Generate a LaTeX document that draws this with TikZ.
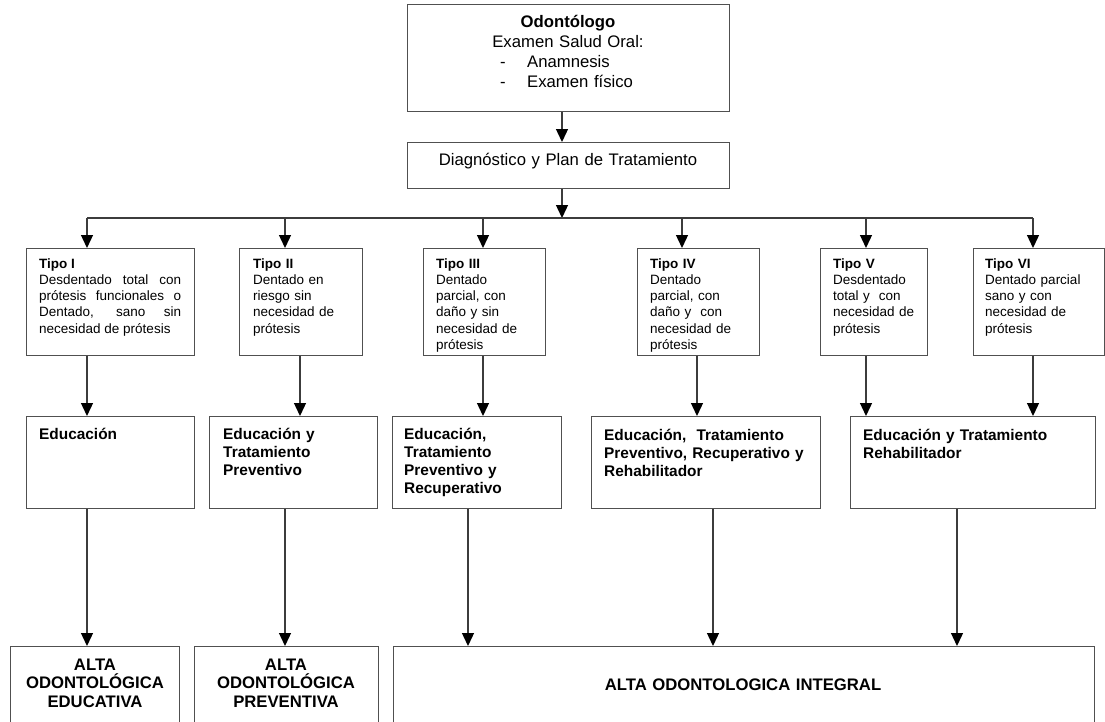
\documentclass[tikz,border=0pt]{standalone}
\usepackage{fontspec}
\setmainfont{Liberation Sans}
\usetikzlibrary{arrows.meta}
\definecolor{boxc}{HTML}{505050}
\definecolor{linec}{HTML}{3C3C3C}
\begin{document}
\begin{tikzpicture}[x=1pt,y=-1pt,
  box/.style={draw=boxc,line width=1.4pt,inner sep=0pt,anchor=north west},
  conn/.style={draw=linec,line width=1.3pt},
  arr/.style={conn,-{Triangle[length=13pt,width=12pt,color=black]}},
  toptext/.style={inner sep=0pt,font=\fontsize{16.7}{20}\selectfont},
  tipotxt/.style={inner sep=0pt,anchor=base west,align=left,font=\fontsize{13.5}{16.3}\selectfont},
  edutxt/.style={inner sep=0pt,anchor=base west,align=left,font=\fontsize{15.4}{18}\selectfont\bfseries},
  altatxt/.style={inner sep=0pt,anchor=base,align=center,font=\fontsize{16.7}{18.5}\selectfont\bfseries}]
\useasboundingbox (0,0) rectangle (1105,721);

% ---------- top ----------
\node[box,minimum width=322pt,minimum height=107pt] (top) at (407,4) {};
\node[toptext,anchor=base,text width=300pt,align=center] (toptxt) at (568,27) {\textbf{Odontólogo}\\Examen Salud Oral:};
\node[toptext,anchor=base west,text width=200pt,align=left] (toplist) at (500,67) {\makebox[27pt][l]{-}Anamnesis\\\makebox[27pt][l]{-}Examen físico};

\node[box,minimum width=322pt,minimum height=46pt] (diag) at (407,142) {};
\node[toptext,anchor=base,text width=310pt,align=center] (diagtxt) at (568,165) {Diagnóstico y Plan de Tratamiento};

% ---------- tipo boxes ----------
\node[box,minimum width=168pt,minimum height=107pt] (t1) at (26,248) {};
\node[box,minimum width=123pt,minimum height=107pt] (t2) at (239,248) {};
\node[box,minimum width=122pt,minimum height=107pt] (t3) at (423,248) {};
\node[box,minimum width=122pt,minimum height=107pt] (t4) at (637,248) {};
\node[box,minimum width=107pt,minimum height=107pt] (t5) at (820,248) {};
\node[box,minimum width=131pt,minimum height=107pt] (t6) at (973,248) {};

\node[tipotxt,text width=142pt,align=justify] (t1txt) at (39,268) {\textbf{Tipo I}\\Desdentado total con\linebreak prótesis funcionales o\linebreak Dentado, sano sin\linebreak necesidad de prótesis};
\node[tipotxt,text width=105pt] (t2txt) at (253,268) {\textbf{Tipo II}\\Dentado en\\riesgo sin\\necesidad de\\prótesis};
\node[tipotxt,text width=105pt] (t3txt) at (436,268) {\textbf{Tipo III}\\Dentado\\parcial, con\\daño y sin\\necesidad de\\prótesis};
\node[tipotxt,text width=105pt] (t4txt) at (650,268) {\textbf{Tipo IV}\\Dentado\\parcial, con\\daño y \ con\\necesidad de\\prótesis};
\node[tipotxt,text width=92pt] (t5txt) at (833,268) {\textbf{Tipo V}\\Desdentado\\total y \ con\\necesidad de\\prótesis};
\node[tipotxt,text width=115pt] (t6txt) at (985,268) {\textbf{Tipo VI}\\Dentado parcial\\sano y con\\necesidad de\\prótesis};

% ---------- education boxes ----------
\node[box,minimum width=168pt,minimum height=92pt] (e1) at (26,416) {};
\node[box,minimum width=168pt,minimum height=92pt] (e2) at (209,416) {};
\node[box,minimum width=169pt,minimum height=92pt] (e3) at (392,416) {};
\node[box,minimum width=229pt,minimum height=92pt] (e4) at (591,416) {};
\node[box,minimum width=245pt,minimum height=92pt] (e5) at (850,416) {};

\node[edutxt,text width=140pt] (e1txt) at (39,439) {Educación};
\node[edutxt,text width=150pt] (e2txt) at (223,439) {Educación y\\Tratamiento\\Preventivo};
\node[edutxt,text width=150pt] (e3txt) at (404,439) {Educación,\\Tratamiento\\Preventivo y\\Recuperativo};
\node[edutxt,text width=215pt] (e4txt) at (604,440) {Educación, \ Tratamiento\\Preventivo, Recuperativo y\\Rehabilitador};
\node[edutxt,text width=230pt] (e5txt) at (863,440) {Educación y Tratamiento\\Rehabilitador};

% ---------- final boxes ----------
\node[box,minimum width=169pt,minimum height=90pt] (a1) at (10,646) {};
\node[box,minimum width=184pt,minimum height=90pt] (a2) at (194,646) {};
\node[box,minimum width=701pt,minimum height=90pt] (a3) at (393,646) {};

\node[altatxt,text width=165pt] (a1txt) at (95,670) {ALTA\\ODONTOLÓGICA\\EDUCATIVA};
\node[altatxt,text width=175pt] (a2txt) at (286,670) {ALTA\\ODONTOLÓGICA\\PREVENTIVA};
\node[altatxt,text width=400pt] (a3txt) at (743,690) {ALTA ODONTOLOGICA INTEGRAL};

% ---------- connectors ----------
\coordinate (c0) at (562,0);
\draw[arr] (top.south -| c0) -- (diag.north -| c0);
\coordinate (bus) at (0,218);
\draw[arr] (diag.south -| c0) -- (c0 |- bus);
\coordinate (bL) at (87,218);
\coordinate (bR) at (1033,218);
\draw[conn] (bL) -- (bR);

\coordinate (x1) at (87,0);
\coordinate (x2) at (285,0);
\coordinate (x3) at (483,0);
\coordinate (x4) at (682,0);
\coordinate (x5) at (866,0);
\coordinate (x6) at (1033,0);
\foreach \i in {1,...,6} {\draw[arr] (x\i |- bus) -- (t\i.north -| x\i);}

\coordinate (y2) at (300,0);
\coordinate (y4) at (697,0);
\draw[arr] (t1.south -| x1) -- (e1.north -| x1);
\draw[arr] (t2.south -| y2) -- (e2.north -| y2);
\draw[arr] (t3.south -| x3) -- (e3.north -| x3);
\draw[arr] (t4.south -| y4) -- (e4.north -| y4);
\draw[arr] (t5.south -| x5) -- (e5.north -| x5);
\draw[arr] (t6.south -| x6) -- (e5.north -| x6);

\coordinate (z3) at (468,0);
\coordinate (z4) at (713,0);
\coordinate (z5) at (957,0);
\draw[arr] (e1.south -| x1) -- (a1.north -| x1);
\draw[arr] (e2.south -| x2) -- (a2.north -| x2);
\draw[arr] (e3.south -| z3) -- (a3.north -| z3);
\draw[arr] (e4.south -| z4) -- (a3.north -| z4);
\draw[arr] (e5.south -| z5) -- (a3.north -| z5);
\end{tikzpicture}
\end{document}
